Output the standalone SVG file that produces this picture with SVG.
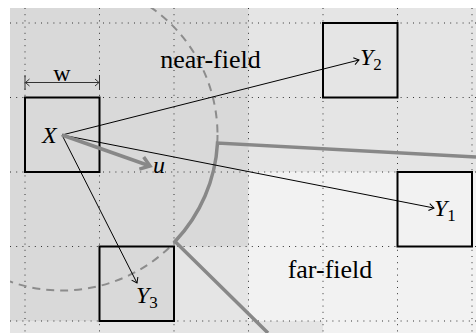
<svg xmlns="http://www.w3.org/2000/svg" width="476" height="333" viewBox="0 0 476 333">
<style>
.grid{stroke:#333;stroke-width:1;stroke-dasharray:1 5.2;fill:none}
.box{fill:none;stroke:#000;stroke-width:2}
.thin{stroke:#000;stroke-width:1;fill:none}
.bound{stroke:#888;stroke-width:3.5;fill:none}
text{fill:#000}
</style>
<defs>
<clipPath id="area"><rect x="10" y="8" width="466" height="325"/></clipPath>
<marker id="arr" markerUnits="userSpaceOnUse" markerWidth="12" markerHeight="12" viewBox="-6 -6 12 12" refX="0" refY="0" orient="auto">
<path d="M-5,-3.5 L0,0 L-5,3.5" fill="none" stroke="#000" stroke-width="1"/>
</marker>
<marker id="dim" markerUnits="userSpaceOnUse" markerWidth="12" markerHeight="12" viewBox="-6 -6 12 12" refX="0" refY="0" orient="auto-start-reverse">
<path d="M-4,-3.5 L0,0 L-4,3.5" fill="none" stroke="#333" stroke-width="1"/>
</marker>
<marker id="uarr" markerUnits="userSpaceOnUse" markerWidth="20" markerHeight="20" viewBox="-10 -10 20 20" refX="0" refY="0" orient="auto">
<path d="M-9,-6.5 L0,0 L-9,6.5" fill="none" stroke="#888" stroke-width="3.5" stroke-linejoin="miter"/>
</marker>
</defs>
<g id="background" clip-path="url(#area)">
<rect x="10" y="8" width="466" height="325" fill="#e5e5e5"/>
<path d="M10,8 H248.5 V246.5 H174 V321 H10 Z" fill="#d9d9d9"/>
<path d="M248.5,172 H476 V333 H323 V321 H248.5 Z" fill="#f2f2f2"/>
</g>
<g id="grid" class="grid">
<path d="M25,8 V333 M99.5,8 V333 M174,8 V333 M248.5,8 V333 M323,8 V333 M397.5,8 V333 M472,8 V333"/>
<path d="M10,23 H476 M10,97.5 H476 M10,172 H476 M10,246.5 H476 M10,321 H476"/>
</g>
<g id="near-far-boundary" clip-path="url(#area)">
<circle cx="62" cy="135" r="155.5" fill="none" stroke="#8c8c8c" stroke-width="2" stroke-dasharray="8 6"/>
<path class="bound" d="M476,157 L217.5,143 A155.5,155.5 0 0 1 175,241.5 L268,333"/>
</g>
<g id="node-X">
<rect class="box" x="25" y="97.5" width="74.5" height="74.5"/>
<text x="42" y="143" font-family="Liberation Serif, Times New Roman, serif" font-size="24" font-style="italic">X</text>
</g>
<g id="node-Y2">
<rect class="box" x="323" y="23" width="74.5" height="74.5"/>
<text x="360" y="65" font-family="Liberation Serif, Times New Roman, serif" font-size="24" font-style="italic">Y<tspan font-size="17" font-style="normal" dy="5">2</tspan></text>
</g>
<g id="node-Y1">
<rect class="box" x="397.5" y="172" width="74.5" height="74.5"/>
<text x="434" y="216" font-family="Liberation Serif, Times New Roman, serif" font-size="24" font-style="italic">Y<tspan font-size="17" font-style="normal" dy="5">1</tspan></text>
</g>
<g id="node-Y3">
<rect class="box" x="99.5" y="246.5" width="74.5" height="74.5"/>
<text x="136" y="303" font-family="Liberation Serif, Times New Roman, serif" font-size="24" font-style="italic">Y<tspan font-size="17" font-style="normal" dy="5">3</tspan></text>
</g>
<g id="region-labels">
<text x="210.5" y="68" text-anchor="middle" font-family="Liberation Serif, Times New Roman, serif" font-size="26">near-field</text>
<text x="330" y="278" text-anchor="middle" font-family="Liberation Serif, Times New Roman, serif" font-size="26">far-field</text>
</g>
<g id="width-dimension">
<path d="M25,75 V90 M99.5,75 V90" stroke="#333" stroke-width="1"/>
<line x1="25.5" y1="82.5" x2="99" y2="82.5" stroke="#333" stroke-width="1" marker-start="url(#dim)" marker-end="url(#dim)"/>
<text x="62" y="81" text-anchor="middle" font-family="Liberation Serif, Times New Roman, serif" font-size="24">w</text>
</g>
<g id="connectors">
<line class="thin" x1="62" y1="135" x2="359" y2="60" marker-end="url(#arr)"/>
<line class="thin" x1="62" y1="135" x2="434" y2="208" marker-end="url(#arr)"/>
<line class="thin" x1="62" y1="135" x2="137" y2="283" marker-end="url(#arr)"/>
<line x1="62" y1="135" x2="150" y2="166" stroke="#888" stroke-width="3.5" marker-end="url(#uarr)"/>
<text x="153" y="173" font-family="Liberation Serif, Times New Roman, serif" font-size="24" font-style="italic">u</text>
</g>
</svg>
